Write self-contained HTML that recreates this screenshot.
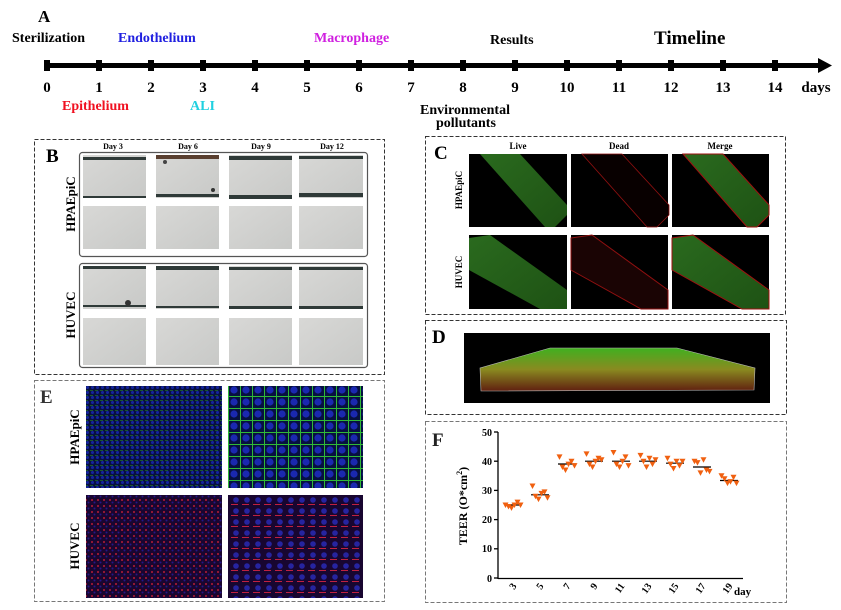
<!DOCTYPE html>
<html><head><style>
body{margin:0;background:#fff;width:841px;height:610px;overflow:hidden}
svg{display:block;font-family:"Liberation Serif",serif;font-weight:bold}
</style></head><body>
<svg width="841" height="610" viewBox="0 0 841 610">
<defs>
<linearGradient id="gray" x1="0" y1="0" x2="1" y2="1"><stop offset="0" stop-color="#d8d8d6"/><stop offset="1" stop-color="#c8c9c7"/></linearGradient>
<linearGradient id="grn" x1="0" y1="0" x2="1" y2="1"><stop offset="0" stop-color="#2a6a1e"/><stop offset="1" stop-color="#1e5214"/></linearGradient>
<pattern id="blueg" width="5" height="5" patternUnits="userSpaceOnUse"><rect width="5" height="5" fill="#081040"/><circle cx="2.5" cy="2.5" r="1.5" fill="#1424a0"/><rect x="0" y="0" width="3" height="0.8" fill="#1e6a28"/></pattern>
<pattern id="blueg2" width="12" height="12" patternUnits="userSpaceOnUse"><rect width="12" height="12" fill="#061040"/><circle cx="6" cy="6" r="3.6" fill="#1a28b0"/><rect x="0" y="0" width="12" height="1" fill="#30b838"/><rect x="0" y="0" width="1" height="12" fill="#30b838"/></pattern>
<pattern id="redb" width="6" height="6" patternUnits="userSpaceOnUse"><rect width="6" height="6" fill="#1a0630"/><circle cx="2" cy="2" r="1" fill="#b81c36"/><circle cx="4.5" cy="4.5" r="1" fill="#24168a"/></pattern>
<pattern id="redb2" width="11" height="11" patternUnits="userSpaceOnUse"><rect width="11" height="11" fill="#180630"/><circle cx="5" cy="5" r="2.8" fill="#2624a0"/><rect x="0" y="9" width="7" height="1" fill="#c02040"/></pattern>
<linearGradient id="dg" x1="0" y1="0" x2="0" y2="1"><stop offset="0" stop-color="#40b020"/><stop offset=".5" stop-color="#8a8a20"/><stop offset="1" stop-color="#602010"/></linearGradient>
</defs>

<!-- A timeline -->
<text x="38" y="22" font-size="17">A</text>
<g font-size="14">
<text x="12" y="42" fill="#000">Sterilization</text>
<text x="118" y="42" fill="#2020e0">Endothelium</text>
<text x="314" y="42" fill="#d020e0">Macrophage</text>
<text x="490" y="44" fill="#000">Results</text>
<text x="654" y="44" font-size="19" fill="#000">Timeline</text>
<text x="62" y="110" fill="#f01020">Epithelium</text>
<text x="190" y="110" fill="#20d0e0">ALI</text>
<text x="420" y="114" fill="#000">Environmental</text>
<text x="436" y="127" fill="#000">pollutants</text>
</g>
<rect x="44" y="63" width="778" height="5" fill="#000"/>
<polygon points="818,58 832,65.5 818,73" fill="#000"/>
<g fill="#000">
<rect x="44" y="60" width="6" height="11"/><rect x="96" y="60" width="6" height="11"/><rect x="148" y="60" width="6" height="11"/><rect x="200" y="60" width="6" height="11"/><rect x="252" y="60" width="6" height="11"/><rect x="304" y="60" width="6" height="11"/><rect x="356" y="60" width="6" height="11"/><rect x="408" y="60" width="6" height="11"/><rect x="460" y="60" width="6" height="11"/><rect x="512" y="60" width="6" height="11"/><rect x="564" y="60" width="6" height="11"/><rect x="616" y="60" width="6" height="11"/><rect x="668" y="60" width="6" height="11"/><rect x="720" y="60" width="6" height="11"/><rect x="772" y="60" width="6" height="11"/>
</g>
<g font-size="15" text-anchor="middle">
<text x="47" y="92">0</text><text x="99" y="92">1</text><text x="151" y="92">2</text><text x="203" y="92">3</text><text x="255" y="92">4</text><text x="307" y="92">5</text><text x="359" y="92">6</text><text x="411" y="92">7</text><text x="463" y="92">8</text><text x="515" y="92">9</text><text x="567" y="92">10</text><text x="619" y="92">11</text><text x="671" y="92">12</text><text x="723" y="92">13</text><text x="775" y="92">14</text><text x="816" y="92">days</text>
</g>

<!-- B -->
<rect x="34.5" y="139.5" width="350" height="235" fill="none" stroke="#333" stroke-dasharray="4,2"/>
<text x="46" y="162" font-size="19">B</text>
<g font-size="8" text-anchor="middle"><text x="113" y="149">Day 3</text><text x="188" y="149">Day 6</text><text x="261" y="149">Day 9</text><text x="332" y="149">Day 12</text></g>
<rect x="79.5" y="152.5" width="288" height="104" rx="3" fill="none" stroke="#555" stroke-width="1.2"/>
<rect x="79.5" y="263.5" width="288" height="104" rx="3" fill="none" stroke="#555" stroke-width="1.2"/>
<g fill="url(#gray)">
<rect x="83" y="155" width="63" height="43"/><rect x="156" y="155" width="63" height="43"/><rect x="229" y="155" width="63" height="43"/><rect x="299" y="155" width="64" height="43"/>
<rect x="83" y="206" width="63" height="43"/><rect x="156" y="206" width="63" height="43"/><rect x="229" y="206" width="63" height="43"/><rect x="299" y="206" width="64" height="43"/>
<rect x="83" y="266" width="63" height="43"/><rect x="156" y="266" width="63" height="43"/><rect x="229" y="266" width="63" height="43"/><rect x="299" y="266" width="64" height="43"/>
<rect x="83" y="318" width="63" height="47"/><rect x="156" y="318" width="63" height="47"/><rect x="229" y="318" width="63" height="47"/><rect x="299" y="318" width="64" height="47"/>
</g>
<g fill="#2f3a38">
<rect x="83" y="157" width="63" height="3"/><rect x="83" y="196" width="63" height="2"/>
<rect x="156" y="155" width="63" height="4" fill="#5a4030"/><rect x="156" y="194" width="63" height="3"/>
<rect x="229" y="156" width="63" height="4"/><rect x="229" y="195" width="63" height="4"/>
<rect x="299" y="156" width="64" height="3"/><rect x="299" y="193" width="64" height="4"/>
<rect x="83" y="266" width="63" height="3"/><rect x="83" y="305" width="63" height="2"/>
<rect x="156" y="266" width="63" height="4"/><rect x="156" y="306" width="63" height="2"/>
<rect x="229" y="267" width="63" height="3"/><rect x="229" y="306" width="63" height="3"/>
<rect x="299" y="267" width="64" height="3"/><rect x="299" y="306" width="64" height="3"/>
</g>
<circle cx="128" cy="303" r="3" fill="#333"/><circle cx="213" cy="190" r="2" fill="#333"/><circle cx="165" cy="162" r="2" fill="#444"/>
<text transform="translate(75,204) rotate(-90)" font-size="13" text-anchor="middle">HPAEpiC</text>
<text transform="translate(75,315) rotate(-90)" font-size="13" text-anchor="middle">HUVEC</text>

<!-- C -->
<rect x="425.5" y="136.5" width="360" height="178" fill="none" stroke="#333" stroke-dasharray="4,2"/>
<text x="434" y="159" font-size="19">C</text>
<g font-size="9" text-anchor="middle"><text x="518" y="149">Live</text><text x="619" y="149">Dead</text><text x="720" y="149">Merge</text></g>
<g fill="#000">
<rect x="469" y="154" width="98" height="73"/><rect x="571" y="154" width="97" height="73"/><rect x="672" y="154" width="97" height="73"/>
<rect x="469" y="235" width="98" height="74"/><rect x="571" y="235" width="97" height="74"/><rect x="672" y="235" width="97" height="74"/>
</g>
<polygon points="480,154 520,154 567,205 567,215 555,227 545,227" fill="url(#grn)"/>
<polygon points="582,154 622,154 669,205 669,215 657,227 647,227" fill="#080000" stroke="#901010" stroke-width="0.8"/>
<polygon points="683,154 723,154 769,205 769,215 757,227 747,227" fill="url(#grn)" stroke="#a01010"/>
<polygon points="469,238 490,235 567,290 567,309 540,309 469,270" fill="url(#grn)"/>
<polygon points="571,238 592,235 668,290 668,309 641,309 571,270" fill="#1a0404" stroke="#901010"/>
<polygon points="672,238 693,235 769,290 769,309 742,309 672,270" fill="url(#grn)" stroke="#a01010"/>
<text transform="translate(462,190) rotate(-90)" font-size="9" text-anchor="middle">HPAEpiC</text>
<text transform="translate(462,272) rotate(-90)" font-size="9" text-anchor="middle">HUVEC</text>

<!-- D -->
<rect x="425.5" y="320.5" width="361" height="94" fill="none" stroke="#333" stroke-dasharray="4,2"/>
<text x="432" y="343" font-size="19">D</text>
<rect x="464" y="333" width="306" height="70" fill="#000"/>
<polygon points="550,348 677,348 755,368 754,390 481,391 480,368" fill="url(#dg)" stroke="#bbb" stroke-width=".6"/>

<!-- E -->
<rect x="34.5" y="380.5" width="350" height="221" fill="none" stroke="#777" stroke-dasharray="4,2"/>
<text x="40" y="403" font-size="19" fill="#333">E</text>
<rect x="86" y="386" width="136" height="102" fill="url(#blueg)"/>
<rect x="228" y="386" width="135" height="102" fill="url(#blueg2)"/>
<rect x="86" y="495" width="136" height="103" fill="url(#redb)"/>
<rect x="228" y="495" width="135" height="103" fill="url(#redb2)"/>
<text transform="translate(79,437) rotate(-90)" font-size="13" text-anchor="middle">HPAEpiC</text>
<text transform="translate(79,546) rotate(-90)" font-size="13" text-anchor="middle">HUVEC</text>

<!-- F -->
<rect x="425.5" y="421.5" width="361" height="181" fill="none" stroke="#777" stroke-dasharray="4,2"/>
<text x="432" y="446" font-size="19" fill="#222">F</text>
<g stroke="#000" stroke-width="1.3" fill="none">
<line x1="498" y1="432" x2="498" y2="579"/><line x1="498" y1="578.5" x2="743" y2="578.5"/>
<line x1="494" y1="432" x2="498" y2="432"/><line x1="494" y1="461.2" x2="498" y2="461.2"/><line x1="494" y1="490.4" x2="498" y2="490.4"/><line x1="494" y1="519.6" x2="498" y2="519.6"/><line x1="494" y1="548.8" x2="498" y2="548.8"/><line x1="494" y1="578" x2="498" y2="578"/>
</g>
<g font-size="10" text-anchor="end"><text x="492" y="436">50</text><text x="492" y="465">40</text><text x="492" y="494">30</text><text x="492" y="523">20</text><text x="492" y="552">10</text><text x="492" y="582">0</text></g>
<text transform="translate(467,506) rotate(-90)" font-size="12" text-anchor="middle">TEER (O*cm<tspan dy="-5" font-size="8">2</tspan><tspan dy="5">)</tspan></text>
<g font-size="10" text-anchor="end">
<text transform="translate(517,586) rotate(-55)">3</text><text transform="translate(544,586) rotate(-55)">5</text><text transform="translate(571,586) rotate(-55)">7</text><text transform="translate(598,586) rotate(-55)">9</text><text transform="translate(625,586) rotate(-55)">11</text><text transform="translate(652,586) rotate(-55)">13</text><text transform="translate(679,586) rotate(-55)">15</text><text transform="translate(706,586) rotate(-55)">17</text><text transform="translate(733,586) rotate(-55)">19</text>
</g>
<text x="734" y="595" font-size="11">day</text>
<g stroke="#000" stroke-width="1.2">
<line x1="505" y1="505" x2="522" y2="505"/><line x1="531" y1="494.8" x2="549" y2="494.8"/><line x1="558" y1="464" x2="576" y2="464"/><line x1="585" y1="461.2" x2="603" y2="461.2"/><line x1="612" y1="461.2" x2="630" y2="461.2"/><line x1="639" y1="461.2" x2="657" y2="461.2"/><line x1="666" y1="463.2" x2="684" y2="463.2"/><line x1="693" y1="467" x2="711" y2="467"/><line x1="720" y1="480.5" x2="738" y2="480.5"/>
</g>
<g fill="#f06010" id="pts"></g>
</svg>
<script>
var d={513:[25,24.5,24,25,26,25],540:[31.5,28,27,29,29.5,27.5],567:[41.5,38,37,39,40,38.5],594:[42.5,39,38,40,41,40.5],621:[43,39,38,40,41.5,38.5],648:[42,40,38,41,39,40.5],675:[41,39,37.5,40,38.5,40],702:[40,39.5,36,40.5,37,36.5],729:[35,34,32.5,33,34.5,32.5]};
var g=document.getElementById('pts'),s='';
for(var x in d){d[x].forEach(function(v,i){var cx=+x+(i-2.5)*3,cy=578-v*2.92;s+='<polygon points="'+(cx-3)+','+(cy-2.5)+' '+(cx+3)+','+(cy-2.5)+' '+cx+','+(cy+3)+'"/>';});}
g.innerHTML=s;
</script>
</body></html>
